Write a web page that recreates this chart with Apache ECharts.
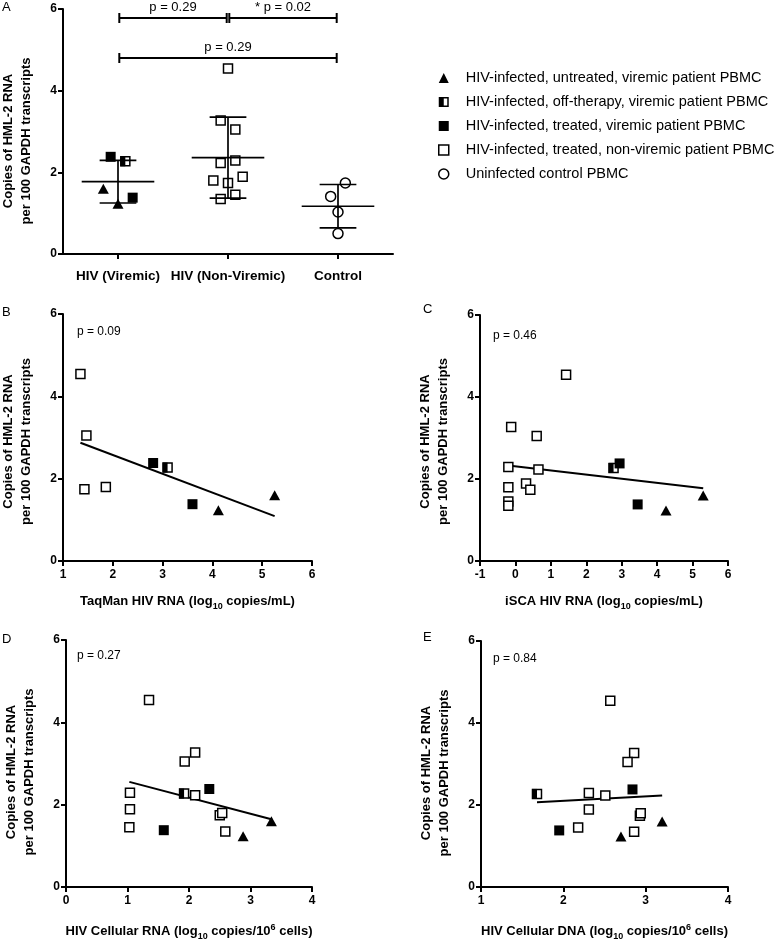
<!DOCTYPE html>
<html><head><meta charset="utf-8">
<script src="https://cdn.jsdelivr.net/npm/echarts@6/dist/echarts.min.js"></script>
<style>html,body{margin:0;padding:0;background:#fff}#c{width:777px;height:940px}</style>
</head><body><div id="c"></div>
<script>
const FONT = '"Liberation Sans", Arial, sans-serif';
const N_TRI = 'HIV-infected, untreated, viremic patient PBMC';
const N_HALF = 'HIV-infected, off-therapy, viremic patient PBMC';
const N_FILL = 'HIV-infected, treated, viremic patient PBMC';
const N_OPEN = 'HIV-infected, treated, non-viremic patient PBMC';
const N_CIRC = 'Uninfected control PBMC';

const categories = ['HIV (Viremic)', 'HIV (Non-Viremic)', 'Control'];
const yTitle = 'Copies of HML-2 RNA\nper 100 GAPDH transcripts';

// Panel A (jitter in steps of 1/15 category)
const aViremicTriangle = [1.60, 1.23];
const aViremicTriangleJitter = [-2, 0];
const aViremicFilled = [2.38, 1.38];
const aViremicFilledJitter = [-1, 2];
const aViremicHalf = [2.27];
const aViremicHalfJitter = [1];
const aNonViremicOpen = [4.54, 3.27, 3.05, 2.23, 2.29, 1.80, 1.89, 1.74, 1.45, 1.35];
const aNonViremicJitter = [0, -1, 1, -1, 1, -2, 2, 0, 1, -1];
const aControl = [1.74, 1.41, 1.03, 0.50];
const aControlJitter = [1, -1, 0, 0];

const bracketFrom = [0, 1, 0];
const bracketTo = [1, 2, 2];
const bracketLevel = [5.78, 5.78, 4.80];
const bracketLabel = ['p = 0.29', '* p = 0.02', 'p = 0.29'];

// Panel B: TaqMan HIV RNA
const bTriangle = [[4.12, 1.23], [5.25, 1.60]];
const bHalf = [[3.10, 2.27]];
const bFilled = [[2.81, 2.38], [3.60, 1.38]];
const bOpen = [[1.35, 4.54], [1.47, 3.05], [1.43, 1.74], [1.86, 1.80]];

// Panel C: iSCA HIV RNA
const cTriangle = [[4.25, 1.23], [5.30, 1.60]];
const cHalf = [[2.77, 2.27]];
const cFilled = [[2.94, 2.38], [3.45, 1.38]];
const cOpen = [[1.43, 4.54], [-0.12, 3.27], [0.60, 3.05], [-0.20, 2.29], [0.65, 2.23], [0.30, 1.89], [0.42, 1.74], [-0.20, 1.80], [-0.20, 1.45], [-0.20, 1.35]];

// Panel D: HIV cellular RNA
const dTriangle = [[2.88, 1.23], [3.34, 1.60]];
const dHalf = [[1.92, 2.27]];
const dFilled = [[2.33, 2.38], [1.59, 1.38]];
const dOpen = [[1.35, 4.54], [2.10, 3.27], [1.93, 3.05], [1.04, 2.29], [1.04, 1.89], [1.03, 1.45], [2.10, 2.23], [2.50, 1.74], [2.54, 1.80], [2.59, 1.35]];

// Panel E: HIV cellular DNA
const eTriangle = [[2.70, 1.23], [3.20, 1.60]];
const eHalf = [[1.68, 2.27]];
const eFilled = [[2.84, 2.38], [1.95, 1.38]];
const eOpen = [[2.57, 4.54], [2.86, 3.27], [2.78, 3.05], [2.31, 2.29], [2.51, 2.23], [2.31, 1.89], [2.18, 1.45], [2.93, 1.74], [2.94, 1.80], [2.86, 1.35]];

const pValues = ['p = 0.09', 'p = 0.46', 'p = 0.27', 'p = 0.84'];
const xRanges = [[1, 6], [-1, 6], [0, 4], [1, 4]];

// ---------- helpers ----------
const JIT = 1 / 15;
const jittered = (g, vals, jit) => vals.map((v, i) => [g + jit[i] * JIT, v]);
function meanSd(vals) {
  const n = vals.length, m = vals.reduce((a, b) => a + b, 0) / n;
  const s = Math.sqrt(vals.reduce((a, b) => a + (b - m) * (b - m), 0) / (n - 1));
  return [m, s];
}
function regression(pts) {
  const n = pts.length;
  const mx = pts.reduce((a, p) => a + p[0], 0) / n, my = pts.reduce((a, p) => a + p[1], 0) / n;
  let sxy = 0, sxx = 0;
  pts.forEach(p => { sxy += (p[0] - mx) * (p[1] - my); sxx += (p[0] - mx) * (p[0] - mx); });
  const b = sxy / sxx, a = my - b * mx;
  const xs = pts.map(p => p[0]);
  const x0 = Math.min(...xs), x1 = Math.max(...xs);
  return [[x0, a + b * x0], [x1, a + b * x1]];
}

const black = '#000';
const axLine = { show: true, onZero: false, lineStyle: { color: black, width: 2 } };
const axTick = { show: true, length: 5, lineStyle: { color: black, width: 2 } };
const axLabel = { color: black, fontWeight: 'bold', fontSize: 12, fontFamily: FONT };

function scatterSet(xi, yi, tri, half, filled, open, circ) {
  const base = { type: 'scatter', xAxisIndex: xi, yAxisIndex: yi, silent: true, z: 3 };
  const out = [];
  if (tri) out.push(Object.assign({}, base, { name: N_TRI, data: tri, symbol: 'triangle', symbolSize: [11, 10], itemStyle: { color: black, opacity: 1 } }));
  if (half) {
    out.push(Object.assign({}, base, { name: N_HALF, data: half, symbol: 'rect', symbolSize: 9, itemStyle: { color: '#fff', borderColor: black, borderWidth: 1.5, opacity: 1 } }));
    out.push(Object.assign({}, base, { name: N_HALF, data: half, symbol: 'rect', symbolSize: [5, 10], symbolOffset: [-2.5, 0], itemStyle: { color: black, opacity: 1 }, z: 4 }));
  }
  if (filled) out.push(Object.assign({}, base, { name: N_FILL, data: filled, symbol: 'rect', symbolSize: 10, itemStyle: { color: black, opacity: 1 } }));
  if (open) out.push(Object.assign({}, base, { name: N_OPEN, data: open, symbol: 'rect', symbolSize: 9, itemStyle: { color: '#fff', borderColor: black, borderWidth: 1.5, opacity: 1 } }));
  if (circ) out.push(Object.assign({}, base, { name: N_CIRC, data: circ, symbol: 'circle', symbolSize: 10, itemStyle: { color: '#fff', borderColor: black, borderWidth: 1.5, opacity: 1 } }));
  return out;
}

function yAxisFor(gi, shift) {
  return {
    type: 'value', gridIndex: gi, min: 0, max: 6, interval: 2,
    name: yTitle, nameLocation: 'middle', nameRotate: 90, nameGap: 28,
    nameTextStyle: { color: black, fontWeight: 'bold', fontSize: 13, fontFamily: FONT, lineHeight: 18, align: 'center', padding: [0, shift, 0, 0] },
    axisLine: axLine, axisTick: axTick, axisLabel: Object.assign({ margin: 6 }, axLabel), splitLine: { show: false }
  };
}

const richBase = { color: black, fontWeight: 'bold', fontFamily: FONT, verticalAlign: 'top' };
function richStyles(padA) {
  return {
    a: Object.assign({}, richBase, { fontSize: 13, lineHeight: 13, padding: [padA, 0, 0, 0] }),
    s: Object.assign({}, richBase, { fontSize: 9, lineHeight: 9, padding: [padA + 6.8, 0, 0, 0] }),
    p: Object.assign({}, richBase, { fontSize: 9, lineHeight: 9, padding: [0, 0, 0, 0] })
  };
}
const xNames = [
  '{a|TaqMan HIV RNA (log}{s|10}{a| copies/mL)}',
  '{a|iSCA HIV RNA (log}{s|10}{a| copies/mL)}',
  '{a|HIV Cellular RNA (log}{s|10}{a| copies/10}{p|6}{a| cells)}',
  '{a|HIV Cellular DNA (log}{s|10}{a| copies/10}{p|6}{a| cells)}'
];
const xPad = [0, 0, 2, 2];
const xGap = [34, 34, 36, 36];

const grids = [
  { left: 63, top: 9, width: 330, height: 245 },
  { left: 63, top: 314, width: 249, height: 247 },
  { left: 480, top: 315, width: 248, height: 246 },
  { left: 66, top: 640, width: 246, height: 247 },
  { left: 481, top: 641, width: 247, height: 246 }
].map(g => Object.assign({ containLabel: false, outerBoundsMode: 'none' }, g));

const xAxes = [
  { type: 'category', gridIndex: 0, data: categories, boundaryGap: true,
    axisLine: axLine, axisTick: Object.assign({ alignWithLabel: true }, axTick),
    axisLabel: Object.assign({}, axLabel, { fontSize: 13.5, margin: 15, interval: 0 }) },
  { type: 'value', gridIndex: 0, min: -0.5, max: 2.5, show: false }
];
xRanges.forEach((r, k) => {
  xAxes.push({
    type: 'value', gridIndex: k + 1, min: r[0], max: r[1], interval: 1,
    name: xNames[k], nameLocation: 'middle', nameGap: xGap[k],
    nameTextStyle: { rich: richStyles(xPad[k]) },
    axisLine: axLine, axisTick: axTick, axisLabel: Object.assign({ margin: 8 }, axLabel), splitLine: { show: false }
  });
});
const yShift = [19, 8, 7, 17, 18];
const yAxes = grids.map((g, i) => yAxisFor(i, yShift[i]));

// ---------- series ----------
const series = [];
// Panel A
const viremicAll = aViremicTriangle.concat(aViremicFilled, aViremicHalf);
const groupStats = [viremicAll, aNonViremicOpen, aControl].map((v, i) => [i].concat(meanSd(v)));
series.push(...scatterSet(1, 0,
  jittered(0, aViremicTriangle, aViremicTriangleJitter),
  jittered(0, aViremicHalf, aViremicHalfJitter),
  jittered(0, aViremicFilled, aViremicFilledJitter),
  jittered(1, aNonViremicOpen, aNonViremicJitter),
  jittered(2, aControl, aControlJitter)));
series.push({
  type: 'custom', xAxisIndex: 1, yAxisIndex: 0, z: 6, silent: true, data: groupStats,
  renderItem(params, api) {
    const x = api.value(0), m = api.value(1), s = api.value(2);
    const segs = [[x - 0.33, m, x + 0.33, m], [x - 0.167, m + s, x + 0.167, m + s], [x - 0.167, m - s, x + 0.167, m - s], [x, m - s, x, m + s]];
    return { type: 'group', children: segs.map(l => {
      const a = api.coord([l[0], l[1]]), b = api.coord([l[2], l[3]]);
      return { type: 'line', shape: { x1: a[0], y1: a[1], x2: b[0], y2: b[1] }, style: { stroke: black, lineWidth: 1.7 } };
    }) };
  }
});
series.push({
  type: 'custom', xAxisIndex: 1, yAxisIndex: 0, z: 6, silent: true,
  data: bracketFrom.map((f, i) => [f, bracketTo[i], bracketLevel[i]]),
  renderItem(params, api) {
    const i = params.dataIndex;
    const p1 = api.coord([api.value(0), api.value(2)]), p2 = api.coord([api.value(1), api.value(2)]);
    const x1 = p1[0] + 1.3, x2 = p2[0] - 1.3, y = p1[1];
    const st = { stroke: black, lineWidth: 2 };
    return { type: 'group', children: [
      { type: 'line', shape: { x1: x1, y1: y, x2: x2, y2: y }, style: st },
      { type: 'line', shape: { x1: x1, y1: y - 5, x2: x1, y2: y + 5 }, style: st },
      { type: 'line', shape: { x1: x2, y1: y - 5, x2: x2, y2: y + 5 }, style: st },
      { type: 'text', x: (x1 + x2) / 2, y: y - 4, style: { text: bracketLabel[i], fontSize: 13, fontFamily: FONT, fill: black, align: 'center', verticalAlign: 'bottom' } }
    ] };
  }
});
// Panels B..E
const panelData = [
  [bTriangle, bHalf, bFilled, bOpen],
  [cTriangle, cHalf, cFilled, cOpen],
  [dTriangle, dHalf, dFilled, dOpen],
  [eTriangle, eHalf, eFilled, eOpen]
];
panelData.forEach((d, k) => {
  const xi = k + 2, yi = k + 1;
  const all = d[0].concat(d[1], d[2], d[3]);
  series.push({ type: 'line', xAxisIndex: xi, yAxisIndex: yi, data: regression(all), symbol: 'none', silent: true, z: 2,
    lineStyle: { color: black, width: 2 } });
  series.push(...scatterSet(xi, yi, d[0], d[1], d[2], d[3], null));
});

// ---------- texts ----------
const letterPos = [['A', 2, 1], ['B', 2, 306], ['C', 423, 303], ['D', 2, 633], ['E', 423, 631]];
const pPos = [[77, 326], [493, 330], [77, 650], [493, 653]];
const titles = letterPos.map(l => ({ text: l[0], left: l[1], top: l[2], padding: 0, textStyle: { fontSize: 13, fontWeight: 'normal', fontFamily: FONT, color: black } }))
  .concat(pValues.map((p, i) => ({ text: p, left: pPos[i][0], top: pPos[i][1], padding: 0, textStyle: { fontSize: 12, fontWeight: 'normal', fontFamily: FONT, color: black } })));

const option = {
  animation: false,
  backgroundColor: '#fff',
  title: titles,
  legend: {
    orient: 'vertical', left: 438, top: 70, itemWidth: 10, itemHeight: 10, itemGap: 8, selectedMode: false, padding: 0,
    textStyle: { fontFamily: FONT, fontSize: 14.5, color: black, lineHeight: 16, padding: [0, 0, 0, 12] },
    data: [
      { name: N_TRI, icon: 'triangle', itemStyle: { color: black, borderWidth: 0, opacity: 1 } },
      { name: N_HALF, icon: 'path://M0,0H10V10H0Z M5,1.5V8.5H8.5V1.5Z', itemStyle: { color: black, borderWidth: 0, opacity: 1 } },
      { name: N_FILL, icon: 'rect', itemStyle: { color: black, borderWidth: 0, opacity: 1 } },
      { name: N_OPEN, icon: 'rect', itemStyle: { color: '#fff', borderColor: black, borderWidth: 1.5, opacity: 1 } },
      { name: N_CIRC, icon: 'circle', itemStyle: { color: '#fff', borderColor: black, borderWidth: 1.5, opacity: 1 } }
    ]
  },
  grid: grids,
  xAxis: xAxes,
  yAxis: yAxes,
  series: series
};
echarts.init(document.getElementById('c'), null, { renderer: 'canvas' }).setOption(option);
</script></body></html>
